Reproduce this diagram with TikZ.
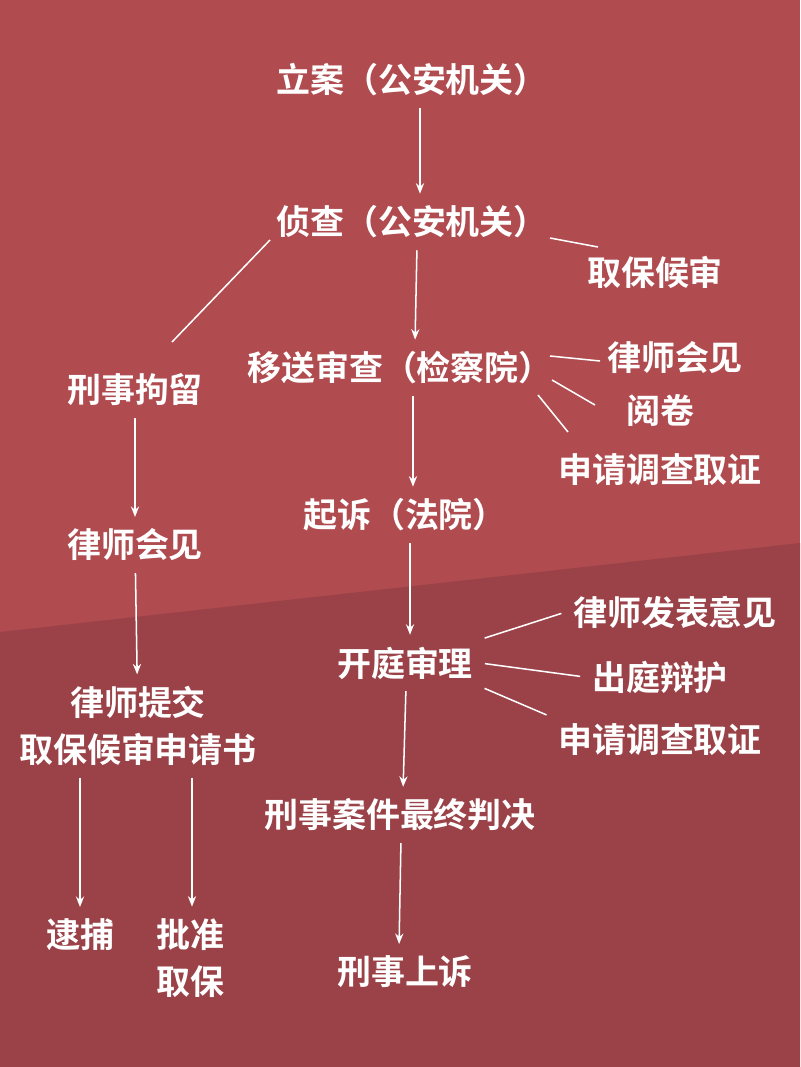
\documentclass[tikz,border=0pt]{standalone}
\usepackage{fontspec}
\newfontfamily\cjk{Noto Sans CJK SC Bold}
\usetikzlibrary{arrows.meta}
\definecolor{bgtop}{HTML}{B04B4F}
\definecolor{bgbot}{HTML}{9A4248}
\begin{document}
\begin{tikzpicture}[x=0.03cm,y=-0.03cm,
  lbl/.style={text=white, font=\cjk\fontsize{29}{40}\selectfont, inner sep=6pt, align=center},
  arrow/.style={white, line width=1.3pt, -{Stealth[length=9pt,width=7pt]}, shorten >=4pt, shorten <=4pt},
  link/.style={white, line width=1.3pt},
]
\fill[bgtop] (0,0) rectangle (800,1067);
\fill[bgbot] (0,632) -- (800,543) -- (800,1067) -- (0,1067) -- cycle;
\useasboundingbox (0,0) rectangle (800,1067);

\node (lian) [lbl] at (412,80) {立案（公安机关）};
\node (zhencha) [lbl] at (412,222) {侦查（公安机关）};
\node (qubao) [lbl] at (655,272) {取保候审};
\node (yisong) [lbl] at (400,368) {移送审查（检察院）};
\node (huijian1) [lbl] at (675,358) {律师会见};
\node (yuejuan) [lbl] at (660,410) {阅卷};
\node (diaocha1) [lbl] at (660,470) {申请调查取证};
\node (qisu) [lbl] at (405,515) {起诉（法院）};
\node (juliu) [lbl] at (135,390) {刑事拘留};
\node (huijian2) [lbl] at (135,545) {律师会见};
\node (tijiao) [lbl] at (138,726) {律师提交\\取保候审申请书};
\node (daibu) [lbl] at (80,935) {逮捕};
\node (pizhun) [lbl] at (190,958) {批准\\取保};
\node (kaiting) [lbl] at (405,663) {开庭审理};
\node (fabiao) [lbl] at (675,612) {律师发表意见};
\node (chuting) [lbl] at (660,677) {出庭辩护};
\node (diaocha2) [lbl] at (660,740) {申请调查取证};
\node (panjue) [lbl] at (400,815) {刑事案件最终判决};
\node (shangsu) [lbl] at (405,972) {刑事上诉};

% link ends
\coordinate (zc1) at (270,240); \coordinate (zc2) at (172,342);
\coordinate (zc3) at (550,238); \coordinate (qb1) at (598,247);
\coordinate (ys1) at (550,356); \coordinate (hj1) at (600,361);
\coordinate (ys2) at (552,380); \coordinate (yj1) at (595,405);
\coordinate (ys3) at (538,395); \coordinate (dc1) at (568,432);

\draw[arrow] (lian.south -| 420,0) -- (zhencha.north -| 420,0);
\draw[arrow] (zhencha.south -| 417,0) -- (yisong.north -| 415,0);
\draw[arrow] (yisong.south -| 413,0) -- (qisu.north -| 413,0);
\draw[arrow] (qisu.south -| 410,0) -- (kaiting.north -| 410,0);
\draw[arrow] (kaiting.south -| 406,0) -- (panjue.north -| 403,0);
\draw[arrow] (panjue.south -| 401,0) -- (shangsu.north -| 399,0);
\draw[arrow] (juliu) -- (huijian2);
\draw[arrow] (huijian2) -- (tijiao);
\draw[arrow] (tijiao.south -| daibu.north) -- (daibu);
\draw[arrow] (tijiao.south -| 192,0) -- (pizhun.north -| 192,0);

\draw[link] (zc1) -- (zc2);
\draw[link] (zc3) -- (qb1);
\draw[link] (ys1) -- (hj1);
\draw[link] (ys2) -- (yj1);
\draw[link] (ys3) -- (dc1);
\draw[link, shorten >=4pt, shorten <=4pt] (kaiting.north east) -- (fabiao.west);
\draw[link, shorten >=4pt, shorten <=4pt] (kaiting.east) -- (chuting.west);
\draw[link, shorten >=4pt, shorten <=4pt] (kaiting.south east) -- (diaocha2.north west);
\end{tikzpicture}
\end{document}
